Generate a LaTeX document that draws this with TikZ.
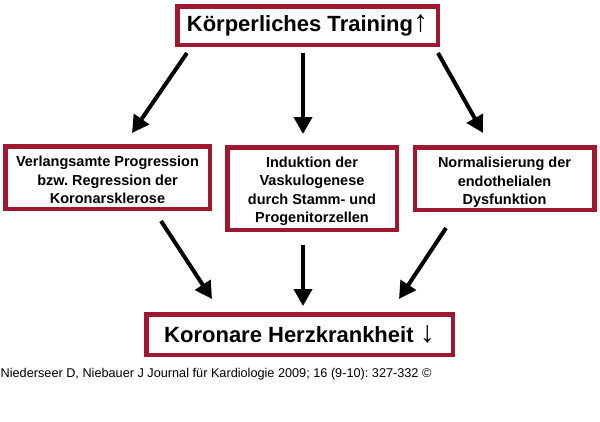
\documentclass[tikz,border=0pt]{standalone}
\usepackage{fontspec}
\setmainfont{Liberation Sans}
\usetikzlibrary{arrows.meta,calc}
\definecolor{boxred}{RGB}{160,24,48}
\frenchspacing
\newcommand\boxtxt[2]{\raisebox{#1}[\height][\depth]{\begin{tabular}{@{}c@{}}#2\end{tabular}}}
\newcommand\bigarrow[1]{{\mdseries\fontsize{30}{30}\selectfont #1}}
\begin{document}
\begin{tikzpicture}[x=1pt,y=-1pt,
  box/.style={draw=boxred,line width=4.5pt,fill=white,inner sep=0pt,align=center,
    font=\bfseries\fontsize{14.5}{18.5}\selectfont},
  bigbox/.style={box,font=\bfseries\fontsize{22}{26}\selectfont},
  arr/.style={line width=4pt,-{Triangle[length=17pt,width=18pt]}}]
\useasboundingbox[fill=white] (0,0) rectangle (600,421);
\node[bigbox,minimum width=260.5pt,minimum height=38.5pt] (top) at (307.5,25.5) {\raisebox{0pt}[\height][\depth]{Körperliches Training\bigarrow{↑}}};
\node[box,minimum width=204.5pt,minimum height=62.5pt] (left) at (107.5,177.5) {\boxtxt{-4pt}{Verlangsamte Progression\\bzw. Regression der\\Koronarsklerose}};
\node[box,minimum width=169.5pt,minimum height=82.5pt] (mid) at (312,188.5) {\boxtxt{-3pt}{Induktion der\\Vaskulogenese\\durch Stamm- und\\Progenitorzellen}};
\node[box,minimum width=179.5pt,minimum height=62.5pt] (right) at (504.5,178.5) {\boxtxt{-4pt}{Normalisierung der\\endothelialen\\Dysfunktion}};
\node[bigbox,minimum width=306.5pt,minimum height=40.5pt] (bot) at (299.5,334.5) {Koronare Herzkrankheit \bigarrow{↓}};
\node[anchor=base west,inner sep=0pt,font=\fontsize{12.7}{14}\selectfont] (cap) at (0.5,377.5) {Niederseer D, Niebauer J Journal für Kardiologie 2009; 16 (9-10): 327-332 ©};
\coordinate (a1s) at (187,53); \coordinate (a1e) at (132,133);
\coordinate (a2s) at (303,53); \coordinate (a2e) at (303,134);
\coordinate (a3s) at (438,53); \coordinate (a3e) at (483,133);
\coordinate (b1s) at (161,221); \coordinate (b1e) at (212,299);
\coordinate (b2s) at (303,245); \coordinate (b2e) at (303,306);
\coordinate (b3s) at (446,228); \coordinate (b3e) at (399,299);
\draw[arr] (a1s) -- (a1e);
\draw[arr] (a2s) -- (a2e);
\draw[arr] (a3s) -- (a3e);
\draw[arr] (b1s) -- (b1e);
\draw[arr] (b2s) -- (b2e);
\draw[arr] (b3s) -- (b3e);
\end{tikzpicture}
\end{document}
